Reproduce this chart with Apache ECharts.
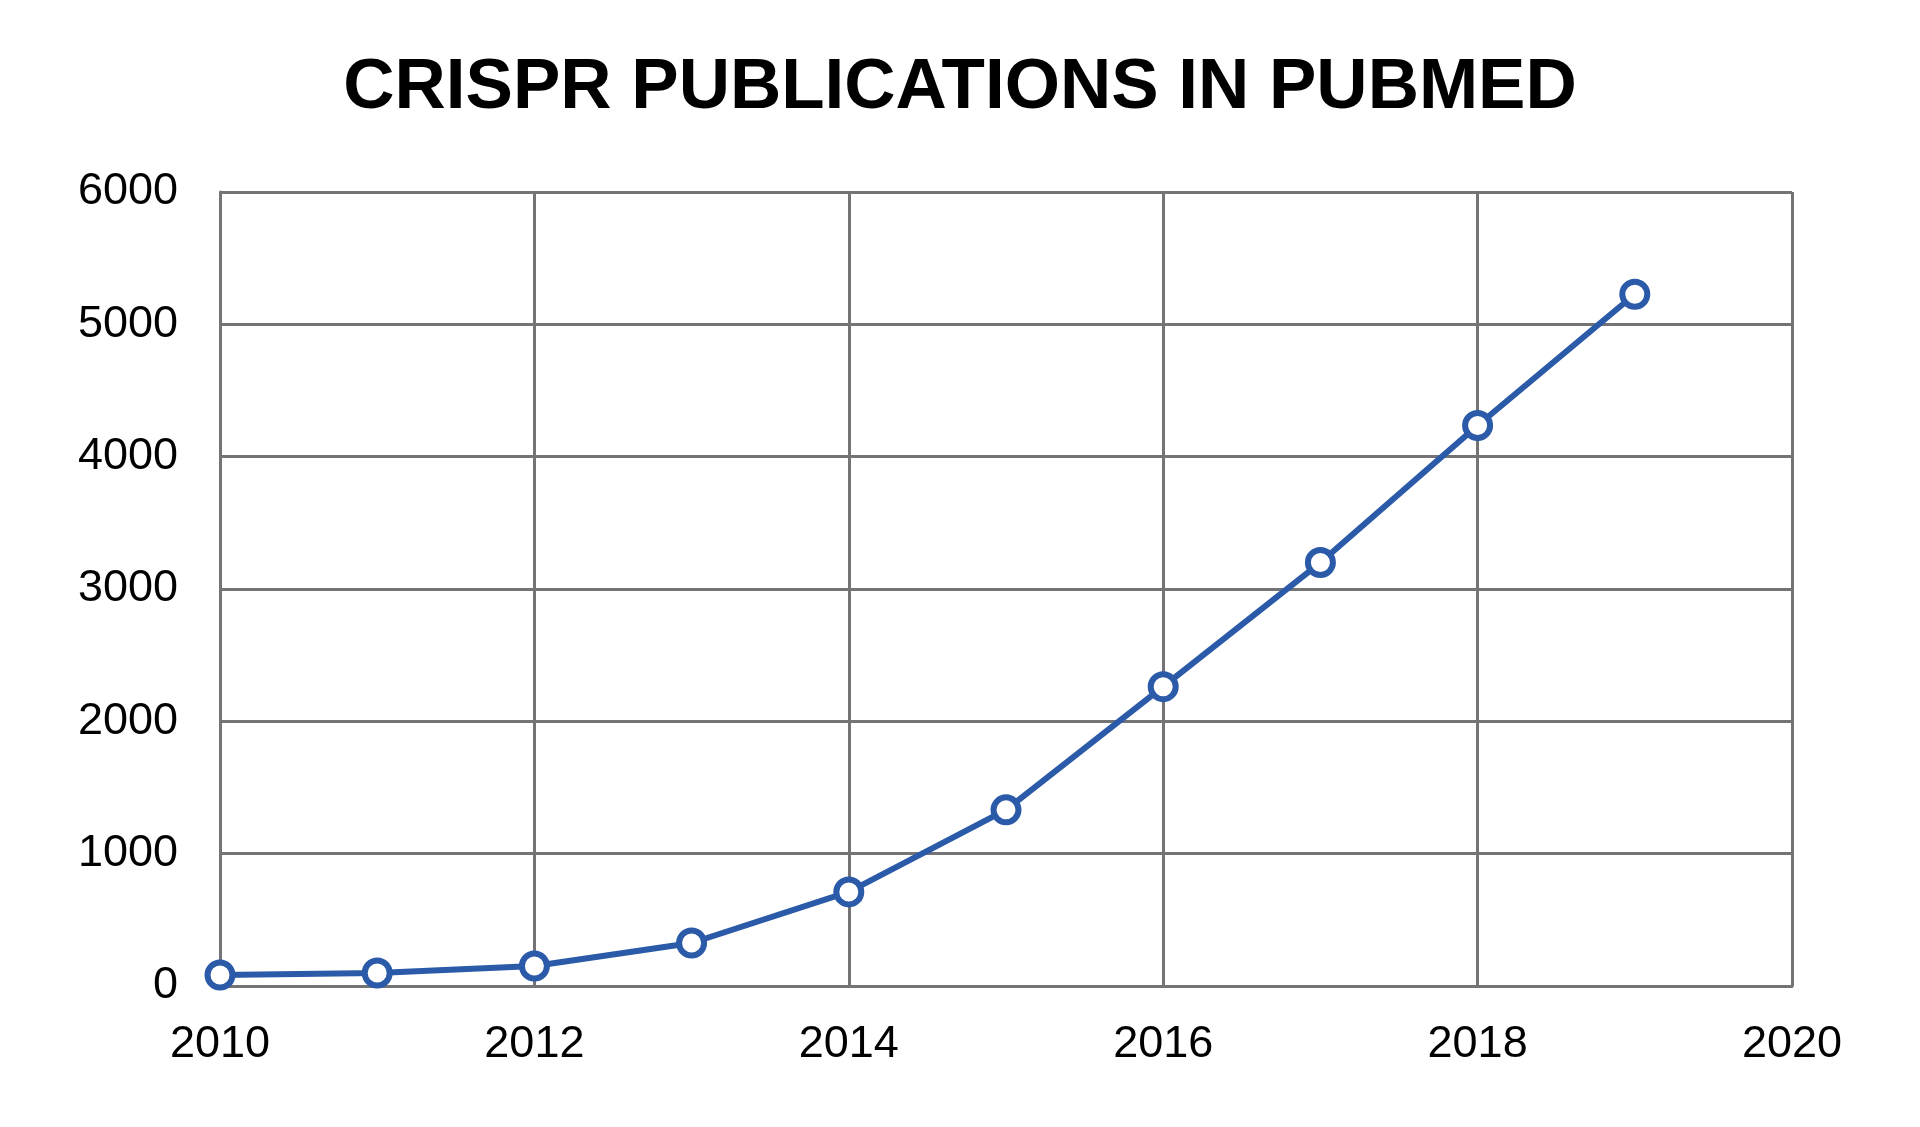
<!DOCTYPE html>
<html>
<head>
<meta charset="utf-8">
<script src="https://cdn.jsdelivr.net/npm/echarts@6/dist/echarts.min.js"></script>
<style>
  html, body { margin: 0; padding: 0; background: #fff; }
  #chart { width: 1920px; height: 1127px; }
</style>
</head>
<body>
<div id="chart"></div>
<script>
// publications per year
var years = [2010, 2011, 2012, 2013, 2014, 2015, 2016, 2017, 2018, 2019];
var counts = [83, 98, 151, 325, 711, 1331, 2262, 3200, 4236, 5227];

var points = [];
for (var i = 0; i < years.length; i++) {
    points.push([years[i], counts[i]]);
}

var gridStyle = { color: '#747477', width: 3 };
var blue = '#2a5aa8';

var chart = echarts.init(document.getElementById('chart'));

chart.setOption({
    animation: false,
    title: {
        text: 'CRISPR PUBLICATIONS IN PUBMED',
        left: 'center',
        top: 48,
        textStyle: {
            fontFamily: 'Liberation Sans',
            fontWeight: 'bold',
            fontSize: 71,
            color: '#000'
        }
    },
    grid: {
        left: 220,
        right: 128,
        top: 192,
        bottom: 141
    },
    xAxis: {
        type: 'value',
        min: 2010,
        max: 2020,
        interval: 2,
        axisLine: { show: true, lineStyle: gridStyle },
        axisTick: { show: false },
        splitLine: { show: true, lineStyle: gridStyle },
        axisLabel: {
            margin: 36,
            fontFamily: 'Liberation Sans',
            fontSize: 45,
            color: '#000',
            formatter: function (v) { return String(v); }
        }
    },
    yAxis: {
        type: 'value',
        min: 0,
        max: 6000,
        interval: 1000,
        axisLine: { show: true, lineStyle: gridStyle },
        axisTick: { show: false },
        splitLine: { show: true, lineStyle: gridStyle },
        axisLabel: {
            margin: 42,
            fontFamily: 'Liberation Sans',
            fontSize: 45,
            color: '#000',
            padding: [0, 0, 6, 0],
            formatter: function (v) { return String(v); }
        }
    },
    series: [{
        type: 'line',
        data: points,
        lineStyle: { color: blue, width: 6 },
        symbol: 'circle',
        symbolSize: 25,
        itemStyle: { color: '#fff', borderColor: blue, borderWidth: 6 },
        z: 5
    }]
});
</script>
</body>
</html>
